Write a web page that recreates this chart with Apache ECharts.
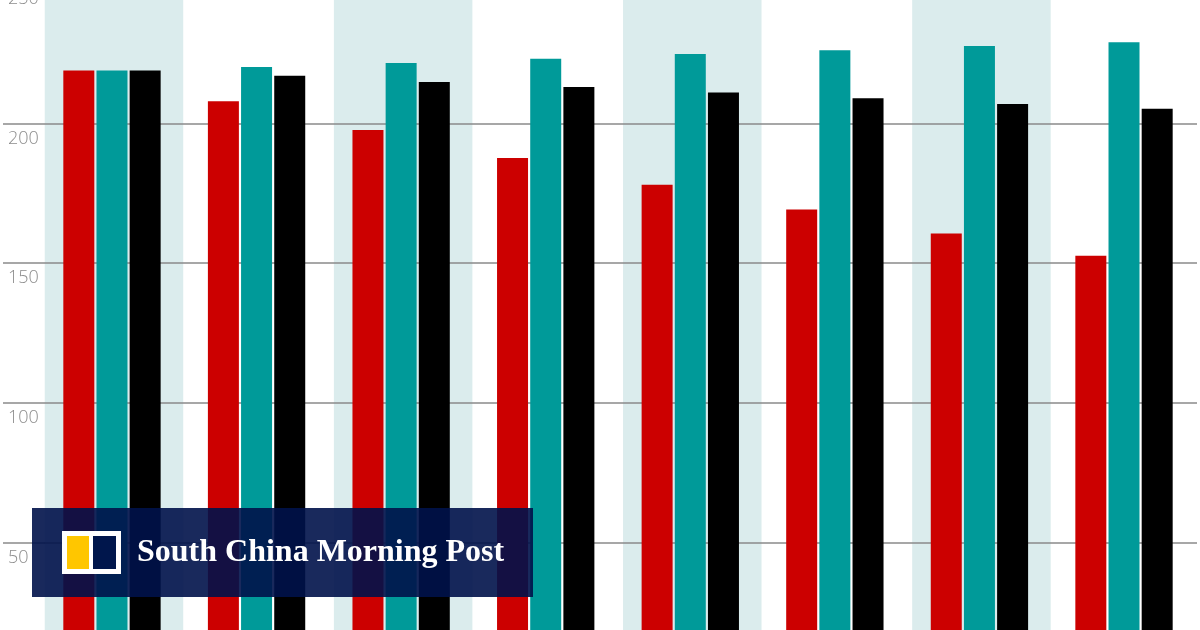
<!DOCTYPE html>
<html>
<head>
<meta charset="utf-8">
<title>Bar chart</title>
<script src="https://cdn.jsdelivr.net/npm/echarts@6/dist/echarts.min.js"></script>
<style>
    html, body { margin: 0; padding: 0; background: #fff; }
    #chart { width: 1200px; height: 630px; }
</style>
</head>
<body>
<div id="chart"></div>
<script>
// groups (category labels are cut off in the picture)
var categories = ['1', '2', '3', '4', '5', '6', '7', '8'];
var redValues = [219, 208, 197.7, 187.7, 178.1, 169.2, 160.6, 152.7];
var tealValues = [219, 220.3, 221.7, 223.2, 224.9, 226.3, 227.8, 229.1];
var blackValues = [219, 217.1, 214.9, 213.1, 211.1, 209.1, 207, 205.3];
// shaded band behind every other group
var bandValues = [250, '-', 250, '-', 250, '-', 250, '-'];
var yTicks = [0, 50, 100, 150, 200, 250];

/*-----bar chart-----*/
var chart = echarts.init(document.getElementById('chart'));

var yMin = yTicks[0];
var yMax = yTicks[yTicks.length - 1];
var yStep = yTicks[1] - yTicks[0];

var option = {
    animation: false,
    grid: [
        { left: 3, right: 3, top: -16, height: 698, outerBoundsMode: 'none' },      // gridlines + labels
        { left: 39.7, right: 3.7, top: -16, height: 698, outerBoundsMode: 'none' }, // bars
        { left: 41.7, right: 1.7, top: -16, height: 698, outerBoundsMode: 'none' }  // bands
    ],
    xAxis: [
        { gridIndex: 0, type: 'category', data: categories, show: false },
        { gridIndex: 1, type: 'category', data: categories, show: false },
        { gridIndex: 2, type: 'category', data: categories, show: false }
    ],
    yAxis: [{
        gridIndex: 0,
        type: 'value',
        min: yMin,
        max: yMax,
        interval: yStep,
        z: 1,
        axisLine: { show: false },
        axisTick: { show: false },
        splitLine: {
            lineStyle: {
                color: '#8a8a8a',
                width: 1.5
            }
        },
        axisLabel: {
            inside: true,
            margin: 5,
            verticalAlign: 'top',
            padding: [6, 0, 0, 0],
            fontSize: 18,
            fontFamily: 'Open Sans',
            fontWeight: 300,
            color: '#8c8c8c'
        }
    }, {
        gridIndex: 1, type: 'value', min: yMin, max: yMax, show: false, splitLine: { show: false }
    }, {
        gridIndex: 2, type: 'value', min: yMin, max: yMax, show: false, splitLine: { show: false }
    }],
    series: [{
        name: 'band',
        type: 'bar',
        xAxisIndex: 2,
        yAxisIndex: 2,
        z: 0,
        barWidth: 138.5,
        silent: true,
        itemStyle: { color: '#dbeced' },
        data: bandValues
    }, {
        name: 'red',
        type: 'bar',
        xAxisIndex: 1,
        yAxisIndex: 1,
        z: 2,
        barWidth: 31,
        barGap: '7%',
        itemStyle: { color: '#cc0000' },
        data: redValues
    }, {
        name: 'teal',
        type: 'bar',
        xAxisIndex: 1,
        yAxisIndex: 1,
        z: 2,
        barWidth: 31,
        barGap: '7%',
        itemStyle: { color: '#009a99' },
        data: tealValues
    }, {
        name: 'black',
        type: 'bar',
        xAxisIndex: 1,
        yAxisIndex: 1,
        z: 2,
        barWidth: 31,
        barGap: '7%',
        itemStyle: { color: '#000000' },
        data: blackValues
    }],
    // publisher banner laid over the chart
    graphic: [{
        type: 'rect',
        z: 100,
        shape: { x: 32, y: 508, width: 501, height: 89 },
        style: { fill: 'rgba(0, 18, 74, 0.9)' }
    }, {
        type: 'rect',
        z: 101,
        shape: { x: 62, y: 531, width: 59, height: 43 },
        style: { fill: '#ffffff' }
    }, {
        type: 'rect',
        z: 102,
        shape: { x: 67, y: 536, width: 22, height: 33 },
        style: { fill: '#ffc600' }
    }, {
        type: 'rect',
        z: 102,
        shape: { x: 93, y: 536, width: 23, height: 33 },
        style: { fill: '#00164c' }
    }, {
        type: 'text',
        z: 102,
        x: 137,
        y: 553,
        style: {
            text: 'South China Morning Post',
            fill: '#ffffff',
            font: 'bold 32px "Liberation Serif"',
            verticalAlign: 'middle'
        }
    }]
};
chart.setOption(option);
window.addEventListener('resize', function () {
    chart.resize();
});
</script>
</body>
</html>
